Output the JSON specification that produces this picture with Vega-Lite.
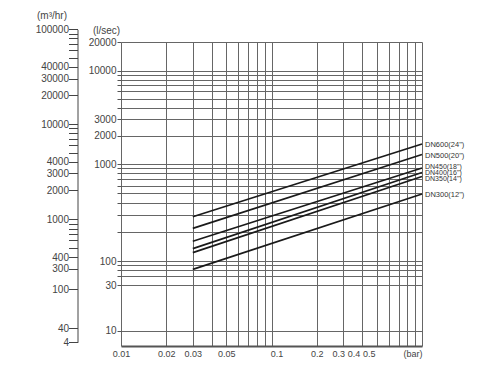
{
  "$schema": "https://vega.github.io/schema/vega-lite/v6.json",
  "width": 301,
  "height": 304,
  "autosize": "none",
  "padding": {"left": 121, "top": 42, "right": 78, "bottom": 25},
  "background": "white",
  "config": {
    "view": {"stroke": null},
    "font": "Liberation Sans",
    "axis": {"labelFont": "Liberation Sans", "titleFont": "Liberation Sans", "labelColor": "#444", "titleColor": "#444", "labelFontSize": 10, "titleFontSize": 10, "titleFontWeight": "normal"}
  },
  "datasets": {
    "flow": [
      {"size": "DN600(24\")", "pressure": 0.03, "flow": 286},
      {"size": "DN600(24\")", "pressure": 1, "flow": 1637},
      {"size": "DN500(20\")", "pressure": 0.03, "flow": 217},
      {"size": "DN500(20\")", "pressure": 1, "flow": 1264},
      {"size": "DN450(18\")", "pressure": 0.03, "flow": 160},
      {"size": "DN450(18\")", "pressure": 1, "flow": 910},
      {"size": "DN400(16\")", "pressure": 0.03, "flow": 134},
      {"size": "DN400(16\")", "pressure": 1, "flow": 817},
      {"size": "DN350(14\")", "pressure": 0.03, "flow": 122},
      {"size": "DN350(14\")", "pressure": 1, "flow": 743},
      {"size": "DN300(12\")", "pressure": 0.03, "flow": 82},
      {"size": "DN300(12\")", "pressure": 1, "flow": 491}
    ],
    "m3axis": [
      {"m3h": 4}, {"m3h": 40}, {"m3h": 100}, {"m3h": 300}, {"m3h": 400}, {"m3h": 1000}, {"m3h": 2000},
      {"m3h": 3000}, {"m3h": 4000}, {"m3h": 10000}, {"m3h": 20000}, {"m3h": 30000}, {"m3h": 40000}, {"m3h": 100000}
    ]
  },
  "layer": [
    {
      "data": {"name": "flow"},
      "encoding": {
        "x": {
          "field": "pressure", "type": "quantitative",
          "scale": {"type": "log", "domain": [0.01, 1], "nice": false},
          "axis": {
            "values": [0.01, 0.02, 0.03, 0.04, 0.05, 0.06, 0.07, 0.08, 0.09, 0.1, 0.2, 0.3, 0.4, 0.5, 0.6, 0.7, 0.8, 0.9, 1],
            "format": "~g",
            "labelExpr": "indexof([0.01, 0.02, 0.03, 0.05, 0.1, 0.2, 0.3, 0.4, 0.5], datum.value) >= 0 ? datum.label : (datum.value == 1 ? '(bar)' : '')",
            "labelAlign": {"condition": {"test": "datum.value >= 0.99", "value": "right"}, "value": "center"},
            "labelOffset": {"condition": [
              {"test": "datum.value > 0.09 && datum.value < 0.11", "value": 5},
              {"test": "datum.value > 0.29 && datum.value < 0.31", "value": -5},
              {"test": "datum.value > 0.39 && datum.value < 0.41", "value": -8.5},
              {"test": "datum.value > 0.49 && datum.value < 0.51", "value": -8}
            ], "value": 0},
            "labelFontSize": 9,
            "labelFlush": false,
            "labelOverlap": false,
            "labelPadding": 3,
            "ticks": false,
            "grid": true,
            "gridColor": "#666",
            "gridWidth": 1,
            "domainColor": "#555",
            "domainWidth": 2,
            "title": null
          }
        },
        "y": {
          "field": "flow", "type": "quantitative",
          "scale": {"type": "log", "domain": [7, 10, 30, 70, 100, 1000, 10000, 20000], "range": [304, 288.7, 243.3, 234, 219, 122, 28.5, 0], "nice": false},
          "axis": {
            "orient": "left",
            "values": [20000, 10000, 9000, 8000, 7000, 6000, 5000, 4000, 3000, 2000, 1000, 900, 800, 700, 600, 500, 400, 300, 200, 100, 90, 80, 70, 30, 10],
            "labelExpr": "indexof([20000, 10000, 3000, 2000, 1000, 100, 30, 10], datum.value) >= 0 ? format(datum.value, 'd') : ''",
            "labelOverlap": false,
            "labelPadding": 1,
            "tickSize": 4,
            "tickColor": "#555",
            "domain": false,
            "grid": true,
            "gridColor": "#666",
            "gridWidth": 1,
            "title": "(l/sec)",
            "titleAngle": 0,
            "titleX": -15,
            "titleY": -12,
            "titleAlign": "center",
            "titleBaseline": "middle"
          }
        }
      },
      "layer": [
        {
          "mark": {"type": "line", "color": "#1a1a1a", "strokeWidth": 1.7},
          "encoding": {"detail": {"field": "size", "type": "nominal"}}
        },
        {
          "transform": [{"filter": "datum.pressure == 1 && indexof(['DN450(18\")', 'DN400(16\")', 'DN350(14\")'], datum.size) < 0"}],
          "mark": {"type": "text", "align": "left", "baseline": "middle", "dx": 3, "dy": 1.5, "fontSize": 7.5, "color": "#333", "font": "Liberation Sans"},
          "encoding": {"text": {"field": "size", "type": "nominal"}}
        },
        {
          "transform": [{"filter": "datum.pressure == 1 && datum.size == 'DN450(18\")'"}],
          "mark": {"type": "text", "align": "left", "baseline": "middle", "dx": 3, "dy": -1, "fontSize": 7, "color": "#333", "font": "Liberation Sans"},
          "encoding": {"text": {"field": "size", "type": "nominal"}}
        },
        {
          "transform": [{"filter": "datum.pressure == 1 && datum.size == 'DN400(16\")'"}],
          "mark": {"type": "text", "align": "left", "baseline": "middle", "dx": 3, "dy": 0.5, "fontSize": 7, "color": "#333", "font": "Liberation Sans"},
          "encoding": {"text": {"field": "size", "type": "nominal"}}
        },
        {
          "transform": [{"filter": "datum.pressure == 1 && datum.size == 'DN350(14\")'"}],
          "mark": {"type": "text", "align": "left", "baseline": "middle", "dx": 3, "dy": 2.5, "fontSize": 7, "color": "#333", "font": "Liberation Sans"},
          "encoding": {"text": {"field": "size", "type": "nominal"}}
        }
      ]
    },
    {
      "data": {"name": "m3axis"},
      "mark": {"type": "point", "opacity": 0},
      "encoding": {
        "y": {
          "field": "m3h", "type": "quantitative",
          "scale": {"type": "log", "domain": [4, 40, 100, 300, 400, 1000, 2000, 3000, 4000, 10000, 20000, 30000, 40000, 100000], "range": [300.3, 286, 247.3, 226.7, 215.3, 177.3, 148.3, 131.3, 119.7, 82, 53, 36.5, 24.7, -12.6], "nice": false},
          "axis": {
            "orient": "left",
            "offset": 43.5,
            "values": [100000, 90000, 80000, 70000, 60000, 50000, 40000, 30000, 20000, 10000, 9000, 8000, 7000, 6000, 5000, 4000, 3000, 2000, 1000, 900, 800, 700, 600, 500, 400, 300, 100, 40, 4],
            "labelExpr": "indexof([100000, 40000, 30000, 20000, 10000, 4000, 3000, 2000, 1000, 400, 300, 100, 40, 4], datum.value) >= 0 ? format(datum.value, 'd') : ''",
            "labelOverlap": false,
            "labelPadding": 0,
            "tickSize": 9,
            "tickColor": "#444",
            "domain": true,
            "domainColor": "#444",
            "grid": false,
            "title": "(m³/hr)",
            "titleAngle": 0,
            "titleX": -26,
            "titleY": -27,
            "titleAlign": "center",
            "titleBaseline": "middle"
          }
        }
      }
    }
  ],
  "resolve": {"scale": {"y": "independent"}}
}
